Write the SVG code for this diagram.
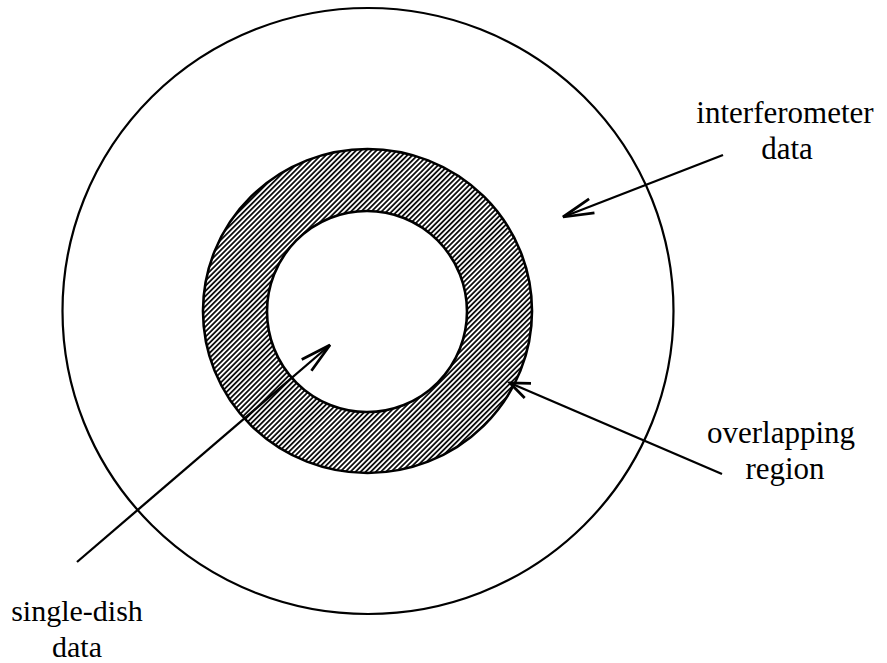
<svg xmlns="http://www.w3.org/2000/svg" width="887" height="663" viewBox="0 0 887 663">
<style>
.lbl{font-family:"Liberation Serif","DejaVu Serif","Times New Roman",serif;font-size:31px;fill:#000;text-anchor:middle}
.conn{stroke:#000;stroke-width:2.3;fill:none}
</style>
<defs>
<pattern id="hatch" patternUnits="userSpaceOnUse" width="3.6" height="3.6" patternTransform="rotate(-45)">
<rect width="3.6" height="3.6" fill="#fff"/>
<line x1="0" y1="1.8" x2="3.6" y2="1.8" stroke="#000" stroke-width="1.7"/>
</pattern>
<marker id="ah" markerUnits="userSpaceOnUse" markerWidth="40" markerHeight="40" refX="0" refY="0" viewBox="-30 -15 35 30" orient="auto" overflow="visible">
<path d="M-27,-6.5 L0,0 L-27,6.5" fill="none" stroke="#000" stroke-width="2.4"/>
</marker>
<marker id="ahs" markerUnits="userSpaceOnUse" markerWidth="40" markerHeight="40" refX="0" refY="0" viewBox="-30 -15 35 30" orient="auto" overflow="visible">
<path d="M-17,-7 L0,0 L-17,7" fill="none" stroke="#000" stroke-width="2.4"/>
</marker>
</defs>
<rect width="887" height="663" fill="#fff"/>
<g id="outer">
<ellipse cx="368" cy="311" rx="305.5" ry="303" fill="none" stroke="#000" stroke-width="2.2"/>
</g>
<g id="annulus">
<path d="M203,311 A164.5,162 0 1,0 532,311 A164.5,162 0 1,0 203,311 Z M267,311.5 A100,100.5 0 1,0 467,311.5 A100,100.5 0 1,0 267,311.5 Z" fill="url(#hatch)" fill-rule="evenodd" stroke="#000" stroke-width="2.6"/>
</g>
<g id="connectors">
<line class="conn" x1="723" y1="155" x2="563" y2="217" marker-end="url(#ah)"/>
<line class="conn" x1="722" y1="474" x2="510" y2="383" marker-end="url(#ahs)"/>
<line class="conn" x1="77" y1="562" x2="330" y2="345" marker-end="url(#ah)"/>
</g>
<g id="label-interferometer">
<text class="lbl" x="785" y="123">interferometer</text>
<text class="lbl" x="787" y="159">data</text>
</g>
<g id="label-overlapping">
<text class="lbl" x="781" y="443">overlapping</text>
<text class="lbl" x="785" y="479">region</text>
</g>
<g id="label-singledish">
<text class="lbl" x="77" y="621" style="font-size:30px">single-dish</text>
<text class="lbl" x="77" y="657" style="font-size:30px">data</text>
</g>
</svg>
